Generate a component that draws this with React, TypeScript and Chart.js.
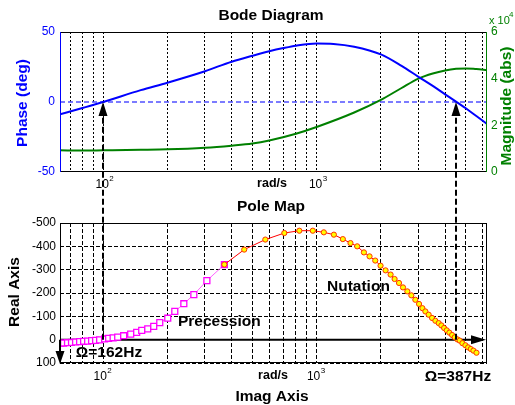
import React, { useEffect, useRef } from 'react';
import { Chart, registerables } from 'chart.js';
Chart.register(...registerables);

const W = 515;
const H = 405;
const FONT = 'Arial, "Liberation Sans", Helvetica, sans-serif';
const BIG = `bold 15.5px ${FONT}`;

// Frequency axis (rad/s), log
const FREQ_MIN = 62.8;
const FREQ_MAX = 6283;
const gridFreqs = [70, 80, 90, 100, 200, 300, 400, 500, 600, 700, 800, 900, 1000, 2000, 3000, 4000, 5000, 6000];

// Bode: phase (deg)
const phaseFreq = [62.8, 80, 100, 150, 200, 300, 400, 500, 600, 700, 800, 1000, 1200, 1500, 2000, 2500, 3000, 3500, 4000, 4500, 5000, 5600, 6283];
const phaseDeg = [-8.8, -4.3, 0, 8.5, 13.8, 22, 28.8, 33, 36.2, 38.5, 40.2, 41.8, 41.5, 39.5, 34, 25.8, 18, 11.5, 5.5, 0.3, -4.5, -10, -15.7];

// Bode: magnitude (abs, x 10^4)
const magFreq = [62.8, 80, 100, 150, 200, 300, 400, 500, 600, 800, 1000, 1500, 2000, 2500, 3000, 3500, 4000, 4500, 5000, 5600, 6283];
const magAbs = [0.93, 0.92, 0.93, 0.95, 0.97, 1.04, 1.13, 1.22, 1.35, 1.64, 1.93, 2.55, 3.09, 3.6, 4.0, 4.22, 4.35, 4.42, 4.44, 4.41, 4.37];

// Pole map: precession branch
const precFreq = [63.2, 65.3, 68.1, 71.1, 74.3, 77.6, 81, 84.6, 88.3, 92.2, 96.3, 101.6, 106.1, 111.4, 117, 124.8, 134.6, 143.6, 151.6, 161.8, 172.6, 184.2, 200.8, 216.6, 238.8, 266, 306.2, 369.8];
const precReal = [15, 14.5, 13, 12, 10, 8.5, 7, 6, 4, 3, 1, -3, -6, -8, -11, -17, -24, -31, -40, -46, -57, -73, -92, -121, -154, -193, -253, -322];

// Pole map: nutation branch
const nutFreq = [369.8, 458, 575, 706, 830, 960, 1081, 1205, 1327, 1441, 1549, 1666, 1770, 1882, 1993, 2104, 2221, 2319, 2432, 2539, 2660, 2778, 2900, 3019, 3129, 3232, 3349, 3474, 3600, 3731, 3842, 3956, 4069, 4188, 4312, 4436, 4568, 4681, 4820, 4978, 5127, 5274, 5429, 5609];
const nutReal = [-322, -386, -429, -457, -467, -467, -460, -450, -431, -414, -400, -374, -357, -339, -317, -297, -279, -260, -243, -224, -207, -190, -171, -153, -135, -121, -107, -93, -81, -71, -61, -50, -40, -30, -20, -10, -1, 4, 15, 24, 33, 40, 47, 56];

// Crossing frequencies marked by dashed arrows
const crossFreqs = [100, 4520];

const pts = (xs: number[], ys: number[]) => xs.map((x, i) => ({ x, y: ys[i] }));

function tri(ctx: CanvasRenderingContext2D, tx: number, ty: number, dir: string, len: number, half: number) {
  ctx.beginPath();
  ctx.moveTo(tx, ty);
  if (dir === 'up') { ctx.lineTo(tx - half, ty + len); ctx.lineTo(tx + half, ty + len); }
  if (dir === 'down') { ctx.lineTo(tx - half, ty - len); ctx.lineTo(tx + half, ty - len); }
  if (dir === 'right') { ctx.lineTo(tx - len, ty - half); ctx.lineTo(tx - len, ty + half); }
  ctx.closePath();
  ctx.fill();
}

function text(ctx: CanvasRenderingContext2D, s: string, x: number, y: number, font: string, color: string, align: CanvasTextAlign = 'center', rot = 0) {
  ctx.save();
  ctx.font = font;
  ctx.fillStyle = color;
  ctx.textAlign = align;
  ctx.textBaseline = 'middle';
  ctx.translate(x, y);
  if (rot) ctx.rotate(rot);
  ctx.fillText(s, 0, 0);
  ctx.restore();
}

function pow10(ctx: CanvasRenderingContext2D, cx: number, y: number, exp: string, color = '#000') {
  ctx.save();
  ctx.font = `12px ${FONT}`;
  const w = ctx.measureText('10').width;
  ctx.fillStyle = color;
  ctx.textBaseline = 'middle';
  ctx.textAlign = 'left';
  ctx.fillText('10', cx - w / 2, y);
  ctx.font = `8px ${FONT}`;
  ctx.fillText(exp, cx + w / 2 + 0.5, y - 6);
  ctx.restore();
}

function logX(gridDash: number[]) {
  return {
    type: 'logarithmic' as const,
    min: FREQ_MIN,
    max: FREQ_MAX,
    afterBuildTicks: (s: any) => { s.ticks = gridFreqs.map((v) => ({ value: v })); },
    ticks: { display: false },
    grid: { color: '#000', lineWidth: 1, drawTicks: false },
    border: { display: false, dash: gridDash },
    afterFit: (s: any) => { s.height = 0; },
  };
}

export default function App() {
  const topRef = useRef<HTMLCanvasElement>(null);
  const botRef = useRef<HTMLCanvasElement>(null);

  useEffect(() => {
    Chart.defaults.font.family = FONT;

    const topPlugin = {
      id: 'topDeco',
      beforeDatasetsDraw(chart: any) {
        const ctx = chart.ctx;
        const a = chart.chartArea;
        const y0 = chart.scales.y.getPixelForValue(0);
        ctx.save();
        ctx.strokeStyle = '#5050ff';
        ctx.lineWidth = 1.5;
        ctx.setLineDash([5, 3]);
        ctx.beginPath();
        ctx.moveTo(a.left, y0);
        ctx.lineTo(a.right, y0);
        ctx.stroke();
        ctx.restore();
      },
      afterDraw(chart: any) {
        const ctx = chart.ctx;
        const a = chart.chartArea;
        ctx.save();
        ctx.lineWidth = 1;
        ctx.strokeStyle = '#000';
        ctx.beginPath();
        ctx.moveTo(a.left, a.top + 0.5); ctx.lineTo(a.right, a.top + 0.5);
        ctx.moveTo(a.left, a.bottom - 0.5); ctx.lineTo(a.right, a.bottom - 0.5);
        ctx.stroke();
        ctx.strokeStyle = '#0000ff';
        ctx.beginPath(); ctx.moveTo(a.left + 0.5, a.top); ctx.lineTo(a.left + 0.5, a.bottom); ctx.stroke();
        ctx.strokeStyle = '#008000';
        ctx.beginPath(); ctx.moveTo(a.right - 0.5, a.top); ctx.lineTo(a.right - 0.5, a.bottom); ctx.stroke();
        ctx.restore();

        const xs = chart.scales.x;
        text(ctx, 'Bode Diagram', 271, 16, BIG, '#000');
        text(ctx, 'Phase (deg)', 23, 103, BIG, '#0000ff', 'center', -Math.PI / 2);
        text(ctx, 'Magnitude (abs)', 507, 106, BIG, '#008000', 'center', -Math.PI / 2);
        pow10(ctx, xs.getPixelForValue(100) - 1, 185, '2');
        pow10(ctx, xs.getPixelForValue(1000) - 1, 185, '3');
        text(ctx, 'rad/s', 272, 184, `bold 12.5px ${FONT}`, '#000');
        ctx.save();
        ctx.fillStyle = '#008000';
        ctx.font = `11px ${FONT}`;
        ctx.textBaseline = 'middle';
        ctx.fillText('x 10', 489, 21);
        ctx.font = `8px ${FONT}`;
        ctx.fillText('4', 509, 15);
        ctx.restore();
      },
    };

    const top = new Chart(topRef.current as HTMLCanvasElement, {
      type: 'line',
      data: {
        datasets: [
          {
            data: pts(phaseFreq, phaseDeg),
            yAxisID: 'y',
            borderColor: '#0000ff',
            borderWidth: 2,
            pointRadius: 0,
            cubicInterpolationMode: 'monotone',
            fill: false,
          },
          {
            data: pts(magFreq, magAbs),
            yAxisID: 'y1',
            borderColor: '#008000',
            borderWidth: 2,
            pointRadius: 0,
            cubicInterpolationMode: 'monotone',
            fill: false,
          },
        ],
      },
      options: {
        responsive: false,
        animation: false,
        events: [],
        layout: { padding: { left: 0, right: 0, top: 32, bottom: 233 }, autoPadding: false },
        plugins: { legend: { display: false }, tooltip: { enabled: false } },
        scales: {
          x: logX([2, 2]) as any,
          y: {
            position: 'left',
            min: -50,
            max: 50,
            ticks: { stepSize: 50, color: '#0000ff', font: { size: 12 }, padding: 5 },
            grid: { display: false, drawTicks: false },
            border: { display: false },
            afterFit: (s: any) => { s.width = 60; },
          },
          y1: {
            position: 'right',
            min: 0,
            max: 6,
            ticks: { stepSize: 2, color: '#008000', font: { size: 12 }, padding: 4 },
            grid: { display: false, drawTicks: false },
            border: { display: false },
            afterFit: (s: any) => { s.width = 28; },
          },
        },
      } as any,
      plugins: [topPlugin],
    });

    const botPlugin = {
      id: 'botDeco',
      beforeDatasetsDraw(chart: any) {
        const ctx = chart.ctx;
        const a = chart.chartArea;
        const y0 = chart.scales.y.getPixelForValue(0);
        ctx.save();
        ctx.strokeStyle = '#000';
        ctx.fillStyle = '#000';
        ctx.lineWidth = 2;
        ctx.beginPath();
        ctx.moveTo(a.left, y0);
        ctx.lineTo(a.right - 12, y0);
        ctx.stroke();
        tri(ctx, a.right - 1, y0, 'right', 15, 4.5);
        ctx.beginPath();
        ctx.moveTo(a.left, y0);
        ctx.lineTo(a.left, a.bottom - 10);
        ctx.stroke();
        tri(ctx, a.left, a.bottom + 1, 'down', 13, 4.5);
        ctx.restore();
      },
      afterDraw(chart: any) {
        const ctx = chart.ctx;
        const a = chart.chartArea;
        ctx.save();
        ctx.strokeStyle = '#000';
        ctx.lineWidth = 1;
        ctx.strokeRect(a.left + 0.5, a.top + 0.5, a.right - a.left - 1, a.bottom - a.top - 1);
        ctx.restore();

        const xs = chart.scales.x;
        const y0 = chart.scales.y.getPixelForValue(0);
        const yTop = top.scales.y.getPixelForValue(0);
        ctx.save();
        ctx.strokeStyle = '#000';
        ctx.fillStyle = '#000';
        ctx.lineWidth = 2;
        ctx.setLineDash([6, 3]);
        crossFreqs.forEach((f) => {
          const x = Math.round(xs.getPixelForValue(f));
          ctx.beginPath();
          ctx.moveTo(x, y0);
          ctx.lineTo(x, yTop + 10);
          ctx.stroke();
        });
        ctx.setLineDash([]);
        crossFreqs.forEach((f) => {
          const x = Math.round(xs.getPixelForValue(f));
          tri(ctx, x, yTop, 'up', 14, 4.5);
        });
        ctx.restore();

        text(ctx, 'Pole Map', 271, 207, BIG, '#000');
        text(ctx, 'Real Axis', 15, 292, BIG, '#000', 'center', -Math.PI / 2);
        text(ctx, 'Imag Axis', 272, 397, BIG, '#000');
        pow10(ctx, xs.getPixelForValue(100) - 3, 377, '2');
        pow10(ctx, xs.getPixelForValue(1000) - 3, 377, '3');
        text(ctx, 'rad/s', 273, 376, `bold 12.5px ${FONT}`, '#000');
        text(ctx, '\u03A9=387Hz', 458, 377, BIG, '#000');
        text(ctx, '\u03A9=162Hz', 109, 353, BIG, '#000');
        text(ctx, 'Precession', 178, 322, BIG, '#000', 'left');
        text(ctx, 'Nutation', 327, 287, BIG, '#000', 'left');
      },
    };

    const bot = new Chart(botRef.current as HTMLCanvasElement, {
      type: 'line',
      data: {
        datasets: [
          {
            data: pts(nutFreq, nutReal),
            borderColor: '#ff0000',
            borderWidth: 1,
            pointStyle: 'circle',
            pointRadius: 2.6,
            pointBackgroundColor: '#ffff00',
            pointBorderColor: '#ff3300',
            pointBorderWidth: 1,
            fill: false,
          },
          {
            data: pts(precFreq, precReal),
            borderColor: '#ff66ff',
            borderWidth: 1,
            pointStyle: 'rect',
            pointRadius: 4.2,
            pointBackgroundColor: '#ffffff',
            pointBorderColor: '#ff00ff',
            pointBorderWidth: 1.3,
            fill: false,
          },
        ],
      },
      options: {
        responsive: false,
        animation: false,
        events: [],
        layout: { padding: { left: 0, right: 28, top: 223, bottom: 42 }, autoPadding: false },
        plugins: { legend: { display: false }, tooltip: { enabled: false } },
        scales: {
          x: logX([4, 2]) as any,
          y: {
            position: 'left',
            min: -500,
            max: 100,
            reverse: true,
            ticks: { stepSize: 100, color: '#000', font: { size: 12 }, padding: 4 },
            grid: { color: '#000', lineWidth: 1, drawTicks: false },
            border: { display: false, dash: [4, 2] },
            afterFit: (s: any) => { s.width = 60; },
          },
        },
      } as any,
      plugins: [botPlugin],
    });

    return () => {
      top.destroy();
      bot.destroy();
    };
  }, []);

  return (
    <div style={{ position: 'absolute', left: 0, top: 0, width: W, height: H, background: '#fff' }}>
      <canvas ref={topRef} width={W} height={H} style={{ position: 'absolute', left: 0, top: 0 }} />
      <canvas ref={botRef} width={W} height={H} style={{ position: 'absolute', left: 0, top: 0 }} />
    </div>
  );
}
